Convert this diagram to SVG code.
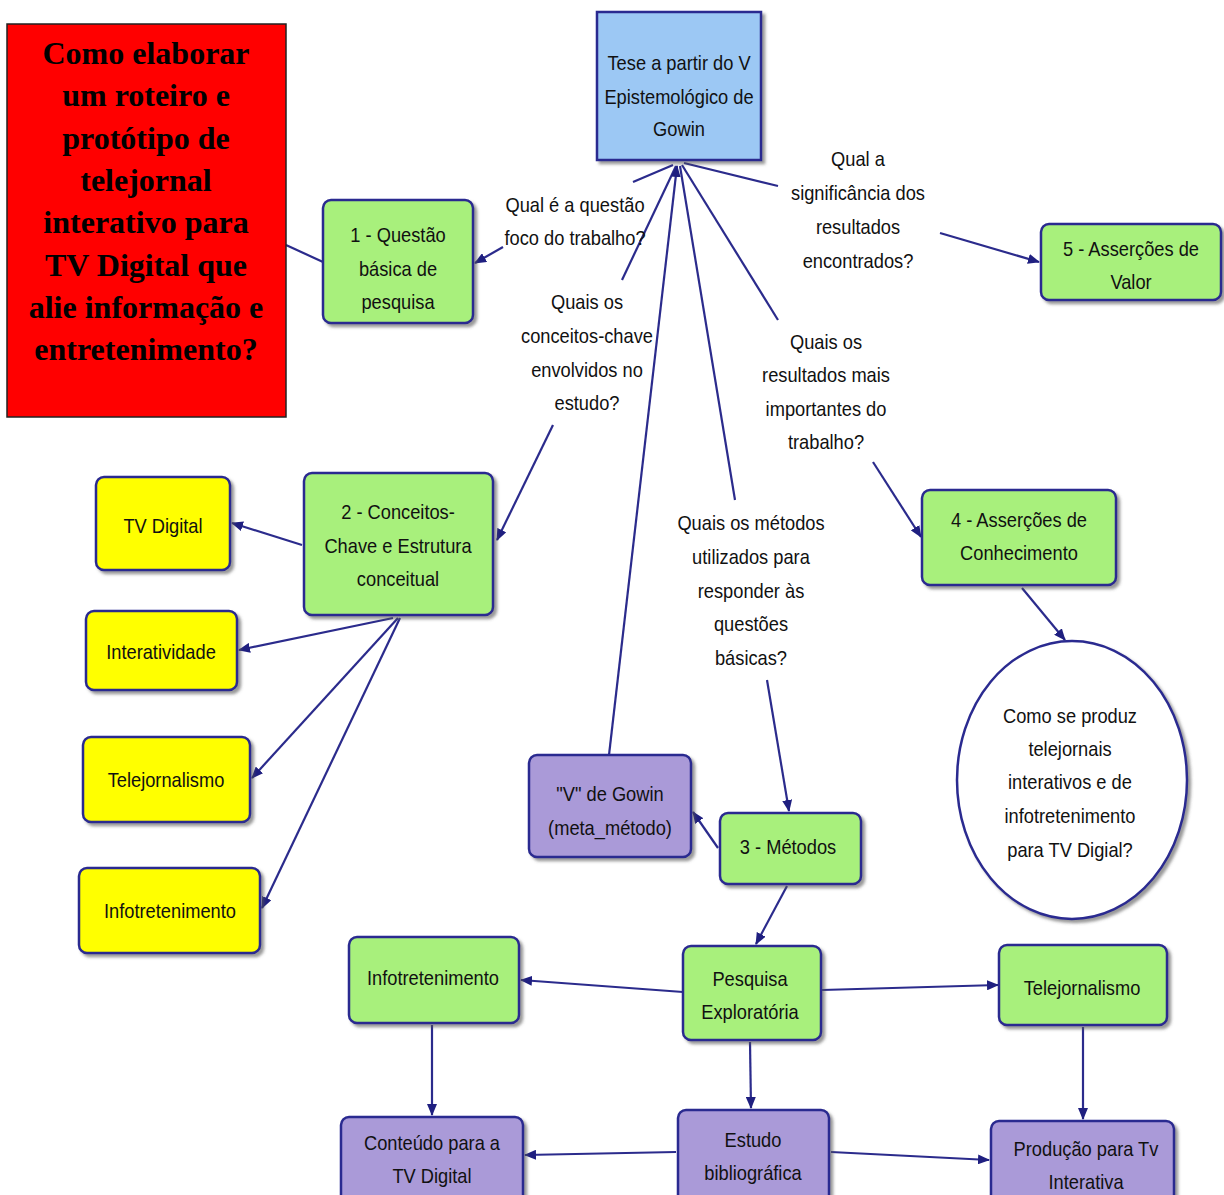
<svg xmlns="http://www.w3.org/2000/svg" width="1224" height="1195" viewBox="0 0 1224 1195">
<defs>
<marker id="arr" viewBox="0 0 12 10" refX="11" refY="5" markerWidth="12" markerHeight="10" markerUnits="userSpaceOnUse" orient="auto">
<path d="M0,0 L12,5 L0,10 z" fill="#1f1f80"/>
</marker>
<filter id="sh" x="-10%" y="-10%" width="130%" height="130%">
<feDropShadow dx="3" dy="3" stdDeviation="1.5" flood-color="#555" flood-opacity="0.6"/>
</filter>
</defs>
<style>
.n rect, .n ellipse { stroke:#2b2b90; stroke-width:2.5; filter:url(#sh); }
.g { fill:#a8f07c; }
.y { fill:#ffff00; }
.p { fill:#aa9ad8; }
.b { fill:#9cc8f4; }
.t { font-family:"Liberation Sans",Arial,sans-serif; font-size:21px; fill:#111; text-anchor:middle; transform-box:fill-box; transform-origin:center; transform:scaleX(0.87); }
.c line { stroke:#2b2b8c; stroke-width:2.2; }
.a { marker-end:url(#arr); }
.r { font-family:"Liberation Serif","Times New Roman",serif; font-weight:bold; font-size:32px; fill:#000; text-anchor:middle; }
</style>
<rect width="1224" height="1195" fill="#fff"/>

<g id="connectors" class="c">
<line x1="286" y1="245" x2="323" y2="262"/>
<line x1="673" y1="165" x2="633" y2="182"/>
<line class="a" x1="503" y1="247" x2="475" y2="263"/>
<line x1="676" y1="166" x2="622" y2="280"/>
<line class="a" x1="553" y1="425" x2="497" y2="540"/>
<line class="a" x1="609" y1="755" x2="677" y2="166"/>
<line x1="680" y1="166" x2="735" y2="500"/>
<line x1="682" y1="165" x2="778" y2="320"/>
<line x1="684" y1="163" x2="778" y2="186"/>
<line class="a" x1="940" y1="233" x2="1039" y2="262"/>
<line class="a" x1="873" y1="462" x2="921" y2="537"/>
<line class="a" x1="1022" y1="588" x2="1065" y2="640"/>
<line class="a" x1="767" y1="680" x2="789" y2="811"/>
<line class="a" x1="718" y1="848" x2="693" y2="812"/>
<line class="a" x1="787" y1="886" x2="756" y2="944"/>
<line class="a" x1="302" y1="545" x2="232" y2="523"/>
<line class="a" x1="393" y1="618" x2="239" y2="650"/>
<line class="a" x1="398" y1="618" x2="252" y2="778"/>
<line class="a" x1="400" y1="618" x2="262" y2="908"/>
<line class="a" x1="683" y1="992" x2="521" y2="980"/>
<line class="a" x1="822" y1="990" x2="998" y2="985"/>
<line class="a" x1="432" y1="1025" x2="432" y2="1115"/>
<line class="a" x1="750" y1="1042" x2="751" y2="1108"/>
<line class="a" x1="1083" y1="1027" x2="1083" y2="1119"/>
<line class="a" x1="676" y1="1152" x2="525" y2="1155"/>
<line class="a" x1="831" y1="1152" x2="989" y2="1160"/>
</g>

<g id="title">
<rect x="7" y="24" width="279" height="393" fill="#ff0000" stroke="#222" stroke-width="1.5"/>
<text class="r" x="146" y="64">Como elaborar</text>
<text class="r" x="146" y="106">um roteiro e</text>
<text class="r" x="146" y="149">protótipo de</text>
<text class="r" x="146" y="191">telejornal</text>
<text class="r" x="146" y="233">interativo para</text>
<text class="r" x="146" y="276">TV Digital que</text>
<text class="r" x="146" y="318">alie informação e</text>
<text class="r" x="146" y="360">entretenimento?</text>
</g>

<g id="labels">
<text class="t" x="575" y="212">Qual é a questão</text>
<text class="t" x="575" y="245">foco do trabalho?</text>
<text class="t" x="587" y="309">Quais os</text>
<text class="t" x="587" y="343">conceitos-chave</text>
<text class="t" x="587" y="377">envolvidos no</text>
<text class="t" x="587" y="410">estudo?</text>
<text class="t" x="858" y="166">Qual a</text>
<text class="t" x="858" y="200">significância dos</text>
<text class="t" x="858" y="234">resultados</text>
<text class="t" x="858" y="268">encontrados?</text>
<text class="t" x="826" y="349">Quais os</text>
<text class="t" x="826" y="382">resultados mais</text>
<text class="t" x="826" y="416">importantes do</text>
<text class="t" x="826" y="449">trabalho?</text>
<text class="t" x="751" y="530">Quais os métodos</text>
<text class="t" x="751" y="564">utilizados para</text>
<text class="t" x="751" y="598">responder às</text>
<text class="t" x="751" y="631">questões</text>
<text class="t" x="751" y="665">básicas?</text>
</g>

<g id="hub" class="n">
<rect class="b" x="597" y="12" width="164" height="148"/>
<text class="t" x="679" y="70">Tese a partir do V</text>
<text class="t" x="679" y="104">Epistemológico de</text>
<text class="t" x="679" y="136">Gowin</text>
</g>

<g id="n1" class="n">
<rect class="g" x="323" y="200" width="150" height="123" rx="8"/>
<text class="t" x="398" y="242">1 - Questão</text>
<text class="t" x="398" y="276">básica de</text>
<text class="t" x="398" y="309">pesquisa</text>
</g>

<g id="n5" class="n">
<rect class="g" x="1041" y="224" width="180" height="76" rx="8"/>
<text class="t" x="1131" y="256">5 - Asserções de</text>
<text class="t" x="1131" y="289">Valor</text>
</g>

<g id="n2" class="n">
<rect class="g" x="304" y="473" width="189" height="142" rx="8"/>
<text class="t" x="398" y="519">2 - Conceitos-</text>
<text class="t" x="398" y="553">Chave e Estrutura</text>
<text class="t" x="398" y="586">conceitual</text>
</g>

<g id="n4" class="n">
<rect class="g" x="922" y="490" width="194" height="95" rx="8"/>
<text class="t" x="1019" y="527">4 -  Asserções de</text>
<text class="t" x="1019" y="560">Conhecimento</text>
</g>

<g id="circ" class="n">
<ellipse cx="1072" cy="780" rx="115" ry="139" fill="#fff"/>
<text class="t" x="1070" y="723">Como se produz</text>
<text class="t" x="1070" y="756">telejornais</text>
<text class="t" x="1070" y="789">interativos e de</text>
<text class="t" x="1070" y="823">infotretenimento</text>
<text class="t" x="1070" y="857">para TV Digial?</text>
</g>

<g id="y1" class="n">
<rect class="y" x="96" y="477" width="134" height="93" rx="8"/>
<text class="t" x="163" y="533">TV Digital</text>
</g>
<g id="y2" class="n">
<rect class="y" x="86" y="611" width="151" height="79" rx="8"/>
<text class="t" x="161" y="659">Interatividade</text>
</g>
<g id="y3" class="n">
<rect class="y" x="83" y="737" width="167" height="85" rx="8"/>
<text class="t" x="166" y="787">Telejornalismo</text>
</g>
<g id="y4" class="n">
<rect class="y" x="79" y="868" width="181" height="85" rx="8"/>
<text class="t" x="170" y="918">Infotretenimento</text>
</g>

<g id="vgowin" class="n">
<rect class="p" x="529" y="755" width="162" height="102" rx="8"/>
<text class="t" x="610" y="801">"V" de Gowin</text>
<text class="t" x="610" y="835">(meta_método)</text>
</g>

<g id="n3" class="n">
<rect class="g" x="720" y="813" width="141" height="71" rx="8"/>
<text class="t" x="788" y="854">3 - Métodos</text>
</g>

<g id="pesq" class="n">
<rect class="g" x="683" y="946" width="138" height="94" rx="8"/>
<text class="t" x="750" y="986">Pesquisa</text>
<text class="t" x="750" y="1019">Exploratória</text>
</g>

<g id="info2" class="n">
<rect class="g" x="349" y="937" width="170" height="86" rx="8"/>
<text class="t" x="433" y="985">Infotretenimento</text>
</g>

<g id="tele2" class="n">
<rect class="g" x="999" y="945" width="168" height="80" rx="8"/>
<text class="t" x="1082" y="995">Telejornalismo</text>
</g>

<g id="cont" class="n">
<rect class="p" x="341" y="1117" width="182" height="90" rx="8"/>
<text class="t" x="432" y="1150">Conteúdo para a</text>
<text class="t" x="432" y="1183">TV Digital</text>
</g>

<g id="estudo" class="n">
<rect class="p" x="678" y="1110" width="151" height="97" rx="8"/>
<text class="t" x="753" y="1147">Estudo</text>
<text class="t" x="753" y="1180">bibliográfica</text>
</g>

<g id="prod" class="n">
<rect class="p" x="991" y="1121" width="183" height="86" rx="8"/>
<text class="t" x="1086" y="1156">Produção para Tv</text>
<text class="t" x="1086" y="1189">Interativa</text>
</g>
</svg>
